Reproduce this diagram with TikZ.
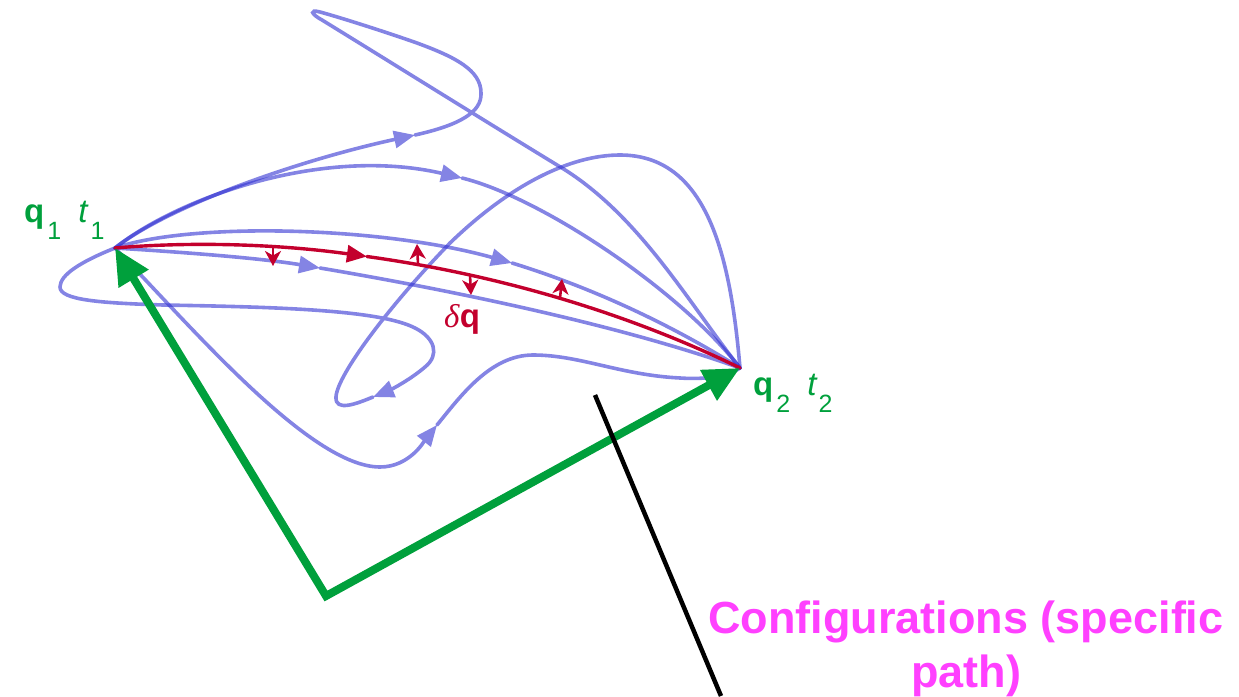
\documentclass[tikz,border=0pt]{standalone}
\usepackage{fontspec}
\setmainfont{Liberation Sans}
\newfontfamily\serifgreek{Liberation Serif}
\usetikzlibrary{arrows.meta}
\definecolor{pathblue}{RGB}{50,50,210}
\definecolor{pathred}{RGB}{195,0,45}
\definecolor{endgreen}{RGB}{0,160,60}
\definecolor{notemag}{RGB}{255,64,255}
\newcommand{\lblsub}[1]{\raisebox{-17pt}{\fontsize{25}{25}\selectfont #1}}
\begin{document}
\begin{tikzpicture}[x=1pt,y=-1pt,
  curvegroup/.style={transparency group, opacity=0.6},
  bluepath/.style={draw=pathblue, line width=3.6pt, line cap=round},
  bluearrow/.style={bluepath, -{Triangle[length=21pt,width=17pt]}},
  redpath/.style={draw=pathred, line width=3.4pt, line cap=round},
  redvar/.style={draw=pathred, line width=2.6pt, -{Stealth[length=15pt,width=16pt,inset=4.5pt]}},
  greenarrow/.style={draw=endgreen, line width=8pt, line join=miter,
     {Triangle[length=36pt,width=33pt]}-{Triangle[length=36pt,width=33pt]}},
  pointer/.style={draw=black, line width=4.5pt},
  lbl/.style={inner sep=0pt, anchor=base west}]
\useasboundingbox (0,0) rectangle (1239,696);

% end points
\coordinate (q1) at (115,248);
\coordinate (q2) at (740,368);
\coordinate (o) at (326,596);

% arrow positions on the blue paths
\coordinate (a1) at (415,135);
\coordinate (b1) at (462,178);
\coordinate (c1) at (373,397);
\coordinate (d1) at (437,425);
\coordinate (e1) at (512,263);
\coordinate (f1) at (320,268);

% path A (top loop)
\begin{scope}[curvegroup]
\draw[bluearrow] (q1) .. controls (170,205) and (300,160) .. (a1);
\draw[bluepath] (a1) .. controls (460,125) and (482,112) .. (481,93)
  .. controls (481,70) and (455,57) .. (417,43)
  .. controls (380,30) and (335,16) .. (320,12)
  .. controls (309,9) and (311,14) .. (322,20)
  .. controls (400,68) and (480,118) .. (562,168)
  .. controls (640,216) and (690,305) .. (q2);
\end{scope}

% path B
\begin{scope}[curvegroup]
\draw[bluearrow] (q1) .. controls (175,200) and (320,145) .. (b1);
\draw[bluepath] (b1) .. controls (540,197) and (680,290) .. (q2);
\end{scope}

% path C (left loop and S)
\begin{scope}[curvegroup]
\draw[bluearrow] (q1) .. controls (80,262) and (60,275) .. (60,287)
  .. controls (60,300) and (100,303) .. (163,305)
  .. controls (280,307) and (380,310) .. (415,328)
  .. controls (435,338) and (440,355) .. (425,367)
  .. controls (410,380) and (390,390) .. (c1);
\draw[bluepath] (c1) .. controls (356,404) and (335,412) .. (336,397)
  .. controls (337,375) and (390,305) .. (450,243)
  .. controls (510,185) and (570,155) .. (620,155)
  .. controls (705,155) and (730,250) .. (q2);
\end{scope}

% path D (bottom)
\begin{scope}[curvegroup]
\draw[bluearrow] (q1) .. controls (190,325) and (310,467) .. (380,467)
  .. controls (410,467) and (425,440) .. (d1);
\draw[bluepath] (d1) .. controls (460,397) and (490,355) .. (533,355)
  .. controls (580,355) and (620,375) .. (680,378)
  .. controls (710,380) and (730,375) .. (q2);
\end{scope}

% path E (above red)
\begin{scope}[curvegroup]
\draw[bluearrow] (q1) .. controls (190,222) and (380,226) .. (e1);
\draw[bluepath] (e1) .. controls (600,290) and (680,330) .. (q2);
\end{scope}

% path F (below red)
\begin{scope}[curvegroup]
\draw[bluearrow] (q1) .. controls (180,252) and (260,258) .. (f1);
\draw[bluepath] (f1) .. controls (450,290) and (620,325) .. (q2);
\end{scope}

% red path
\coordinate (r1) at (366.9,256.5);
\draw[redpath, -{Triangle[length=20pt,width=17pt]}] (q1) .. controls (191.8,241.4) and (278.0,244.1) .. (r1);
\draw[redpath] (r1) .. controls (492.3,273.9) and (623,310.7) .. (q2);

% variations
\coordinate (v1) at (273,247); \coordinate (w1) at (273,266);
\coordinate (v2) at (418,264); \coordinate (w2) at (417,244);
\coordinate (v3) at (470,275); \coordinate (w3) at (471,295);
\coordinate (v4) at (560,298); \coordinate (w4) at (562,279);
\draw[redvar] (v1) -- (w1);
\draw[redvar] (v2) -- (w2);
\draw[redvar] (v3) -- (w3);
\draw[redvar] (v4) -- (w4);

% green arrows
\draw[greenarrow] (q1) -- (o) -- (q2);

% pointer
\coordinate (p1) at (595,395);
\coordinate (p2) at (721,696);
\draw[pointer] (p1) -- (p2);

% labels
\node[lbl, text=endgreen, font=\fontsize{33}{33}\selectfont] (lq1) at (24,222)
  {\textbf{q}\kern3pt\lblsub{1}\hspace{17pt}\textit{t}\kern2pt\lblsub{1}};
\node[lbl, text=endgreen, font=\fontsize{33}{33}\selectfont] (lq2) at (753,395)
  {\textbf{q}\kern3pt\lblsub{2}\hspace{17pt}\textit{t}\kern1pt\lblsub{2}};
\node[lbl, text=pathred, font=\fontsize{33}{33}\selectfont] (dq) at (444,327)
  {{\serifgreek\itshape δ}\textbf{q}};
\node[inner sep=0pt, anchor=base, text=notemag, font=\bfseries\fontsize{45}{54}\selectfont] (cfg1) at (966,633)
  {Configurations (specific};
\node[inner sep=0pt, anchor=base, text=notemag, font=\bfseries\fontsize{45}{54}\selectfont] (cfg2) at (966,687)
  {path)};
\end{tikzpicture}
\end{document}
